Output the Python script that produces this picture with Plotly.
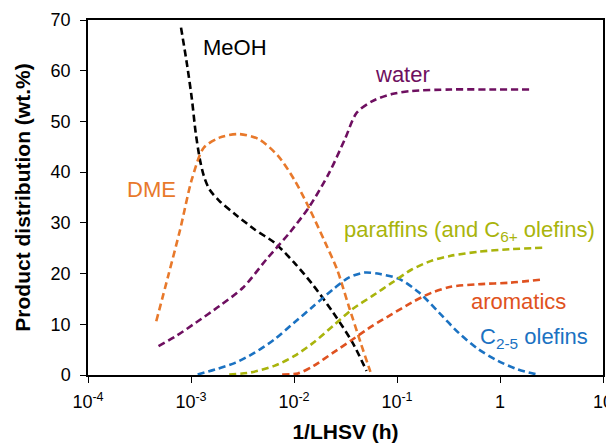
import plotly.graph_objects as go

# ---- data (x = 1/LHSV in h, y = wt.%) ----
meoh_x = [8.0e-4, 9.2e-4, 1.02e-3, 1.11e-3, 1.22e-3, 1.33e-3, 1.51e-3, 1.89e-3, 2.68e-3,
          4.15e-3, 6.44e-3, 0.010, 0.0155, 0.024, 0.037, 0.0506]
meoh_y = [68.5, 60.9, 54.4, 47.8, 42.5, 39.3, 36.6, 34.3, 31.7, 28.7, 26.1, 22.2, 17.6,
          12.3, 6.4, 0.8]

dme_x = [4.6e-4, 6.0e-4, 7.85e-4, 1.02e-3, 1.33e-3, 1.89e-3, 2.92e-3, 4.55e-3, 7.0e-3,
         0.010, 0.0142, 0.0201, 0.0262, 0.034, 0.0443, 0.0552]
dme_y = [10.6, 19.5, 28.7, 38.6, 44.8, 46.8, 47.5, 46.5, 43.2, 38.6, 32.7, 26.1, 20.8,
         13.6, 6.4, 0.6]

water_x = [4.84e-4, 7.19e-4, 1.11e-3, 1.89e-3, 3.19e-3, 5.4e-3, 9.1e-3, 0.0142, 0.022,
           0.0312, 0.0406, 0.0577, 0.0894, 0.1386, 0.333, 0.8, 2.01]
water_y = [5.7, 7.7, 10.3, 13.6, 17.2, 22.8, 28.1, 33.3, 39.9, 46.5, 51.7, 54.0, 55.4,
           56.0, 56.3, 56.3, 56.3]

olef_x = [1.16e-3, 1.73e-3, 2.68e-3, 4.15e-3, 6.44e-3, 0.010, 0.0155, 0.024, 0.034,
          0.0484, 0.0687, 0.106, 0.165, 0.256, 0.397, 0.615, 0.953, 1.48, 2.29]
olef_y = [0.1, 1.1, 2.4, 4.4, 7.0, 10.3, 13.6, 16.9, 19.2, 20.2, 19.9, 18.9, 16.2, 12.3,
          8.3, 5.1, 2.8, 1.1, 0.1]

par_x = [2.35e-3, 3.8e-3, 6.44e-3, 0.010, 0.0155, 0.024, 0.037, 0.0577, 0.0894, 0.139,
         0.215, 0.333, 0.615, 1.24, 2.61]
par_y = [0.1, 0.5, 1.8, 3.7, 6.4, 9.7, 13.0, 15.6, 18.2, 20.8, 22.5, 23.5, 24.3, 24.8, 25.1]

aro_x = [7.67e-3, 0.0109, 0.0155, 0.024, 0.037, 0.0577, 0.0894, 0.139, 0.215, 0.333,
         0.615, 1.24, 2.5]
aro_y = [0.1, 0.3, 1.8, 4.4, 7.0, 9.7, 12.0, 14.3, 16.2, 17.4, 17.9, 18.2, 18.8]

x_tickvals = [1e-4, 1e-3, 1e-2, 1e-1, 1, 10]
x_ticktext = ["10<sup>-4</sup>", "10<sup>-3</sup>", "10<sup>-2</sup>",
              "10<sup>-1</sup>", "1", "10"]

series = [
    ("MeOH", meoh_x, meoh_y, "#000000"),
    ("DME", dme_x, dme_y, "#E8792B"),
    ("water", water_x, water_y, "#6E0F60"),
    ("C2-5 olefins", olef_x, olef_y, "#1B72C2"),
    ("paraffins", par_x, par_y, "#A9B40C"),
    ("aromatics", aro_x, aro_y, "#DF5220"),
]

fig = go.Figure()
for name, xs, ys, col in series:
    fig.add_trace(go.Scatter(x=xs, y=ys, mode="lines", name=name,
                             line=dict(color=col, width=2.6, dash="7px,4px",
                                       shape="spline", smoothing=0.8),
                             showlegend=False))

FONT = "Liberation Sans, Arial, sans-serif"
labels = [
    ("MeOH", -2.573, 64.5, "#000000"),
    ("water", -0.951, 59.2, "#6E0F60"),
    ("DME", -3.388, 36.5, "#E8792B"),
    ("paraffins (and C<sub>6+</sub> olefins)", -0.301, 28.4, "#A9B40C"),
    ("aromatics", 0.175, 14.4, "#DF5220"),
    ("C<sub>2-5</sub> olefins", 0.330, 7.3, "#1B72C2"),
]
for txt, lx, ly, col in labels:
    fig.add_annotation(x=lx, y=ly, xref="x", yref="y", text=txt, showarrow=False,
                       font=dict(family=FONT, size=22, color=col))

# the page body adds an 8px margin, so the figure is sized to fit inside it
fig.update_layout(
    width=606, height=435,
    margin=dict(l=80, r=11, t=12, b=68),
    paper_bgcolor="white", plot_bgcolor="white",
    font=dict(family=FONT, color="black"),
)
fig.update_xaxes(type="log", range=[-4, 1], tickvals=x_tickvals, ticktext=x_ticktext,
                 automargin=False,
                 showgrid=False, zeroline=False, showline=True, linecolor="black",
                 linewidth=1.5, mirror=True, ticks="outside", ticklen=6,
                 tickcolor="black", ticklabelstandoff=4,
                 tickfont=dict(size=18, family=FONT),
                 title=dict(text="<b>1/LHSV (h)</b>", font=dict(size=21, family=FONT),
                            standoff=16))
fig.update_yaxes(range=[0, 70], dtick=10, showgrid=False, zeroline=False,
                 automargin=False,
                 showline=True, linecolor="black", linewidth=1.5, mirror=True,
                 ticks="outside", ticklen=6, tickcolor="black", ticklabelstandoff=6,
                 tickfont=dict(size=18, family=FONT),
                 title=dict(text="<b>Product distribution (wt.%)</b>",
                            font=dict(size=21, family=FONT), standoff=14))

fig.write_html("out.html")
